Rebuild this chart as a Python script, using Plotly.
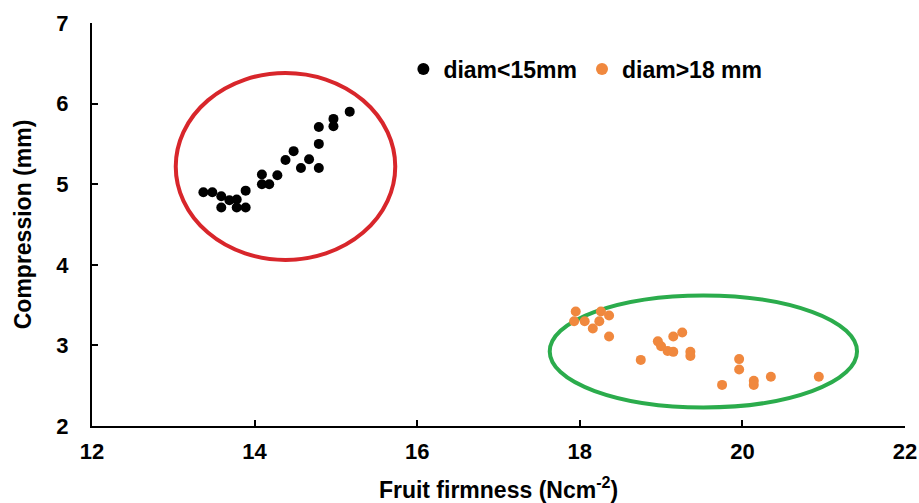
import plotly.graph_objects as go

# Small-diameter fruit (black)
small_x = [13.37, 13.48, 13.59, 13.69, 13.78, 13.89, 13.59, 13.78, 13.89, 14.09, 14.09, 14.18,
           14.28, 14.38, 14.48, 14.57, 14.67, 14.79, 14.79, 14.79, 14.97, 14.97, 15.17]
small_y = [4.90, 4.90, 4.85, 4.80, 4.81, 4.92, 4.71, 4.71, 4.71, 5.12, 5.00, 5.00,
           5.11, 5.30, 5.41, 5.20, 5.31, 5.20, 5.50, 5.71, 5.81, 5.72, 5.90]

# Large-diameter fruit (orange)
large_x = [17.95, 17.93, 18.06, 18.16, 18.26, 18.36, 18.24, 18.36, 18.96, 19.00, 19.08, 19.15,
           19.15, 19.26, 19.36, 19.36, 18.75, 19.96, 19.96, 19.75, 20.14, 20.14, 20.35, 20.94]
large_y = [3.42, 3.30, 3.30, 3.21, 3.42, 3.37, 3.30, 3.11, 3.05, 2.99, 2.93, 2.92,
           3.11, 3.16, 2.92, 2.87, 2.82, 2.83, 2.70, 2.51, 2.56, 2.51, 2.61, 2.61]

x_ticks = [12, 14, 16, 18, 20, 22]
y_ticks = [2, 3, 4, 5, 6, 7]

# Ellipse bounds (data units): x0, x1, y0, y1
red_ellipse = [13.03, 15.73, 4.06, 6.38]
green_ellipse = [17.63, 21.41, 2.23, 3.62]

FONT = "Liberation Sans, Arial, sans-serif"

fig = go.Figure()
fig.add_trace(go.Scatter(x=small_x, y=small_y, mode="markers", name="<b>diam<15mm</b>",
                         marker=dict(color="black", size=10)))
fig.add_trace(go.Scatter(x=large_x, y=large_y, mode="markers", name="<b>diam>18 mm</b>",
                         marker=dict(color="#f0883e", size=10)))

fig.add_shape(type="circle", xref="x", yref="y",
              x0=red_ellipse[0], x1=red_ellipse[1], y0=red_ellipse[2], y1=red_ellipse[3],
              line=dict(color="#d8262b", width=4), layer="below")
fig.add_shape(type="circle", xref="x", yref="y",
              x0=green_ellipse[0], x1=green_ellipse[1], y0=green_ellipse[2], y1=green_ellipse[3],
              line=dict(color="#2bac4c", width=4), layer="below")

fig.update_layout(
    width=919, height=503,
    margin=dict(l=92, r=14, t=23, b=77),
    plot_bgcolor="white", paper_bgcolor="white",
    font=dict(family=FONT, color="black"),
    showlegend=True,
    legend=dict(orientation="h", x=0.383, y=0.886, xanchor="left", yanchor="middle",
                font=dict(size=23, family=FONT, color="black"), bgcolor="rgba(0,0,0,0)",
                itemsizing="constant", itemwidth=30, tracegroupgap=0),
    xaxis=dict(range=[12, 22], tickvals=x_ticks, ticktext=[f"<b>{v}</b>" for v in x_ticks],
               showgrid=False, zeroline=False, showline=True, linecolor="black", linewidth=2,
               ticks="inside", ticklen=6, tickwidth=2, tickcolor="black", automargin=False,
               tickfont=dict(size=22, family=FONT, color="black"), ticklabelstandoff=5,
               title=dict(text="<b>Fruit firmness (Ncm<sup>-2</sup>)</b>",
                          font=dict(size=23, family=FONT, color="black"), standoff=19)),
    yaxis=dict(range=[2, 7], tickvals=y_ticks, ticktext=[f"<b>{v}</b>" for v in y_ticks],
               showgrid=False, zeroline=False, showline=True, linecolor="black", linewidth=2,
               ticks="inside", ticklen=6, tickwidth=2, tickcolor="black", automargin=False,
               tickfont=dict(size=22, family=FONT, color="black"), ticklabelstandoff=17,
               title=dict(text="<b>Compression (mm)</b>",
                          font=dict(size=23, family=FONT, color="black"), standoff=18)),
)

fig.write_html("out.html", config={"displayModeBar": False},
               post_script="document.body.style.margin='0';document.body.style.overflow='hidden';")
